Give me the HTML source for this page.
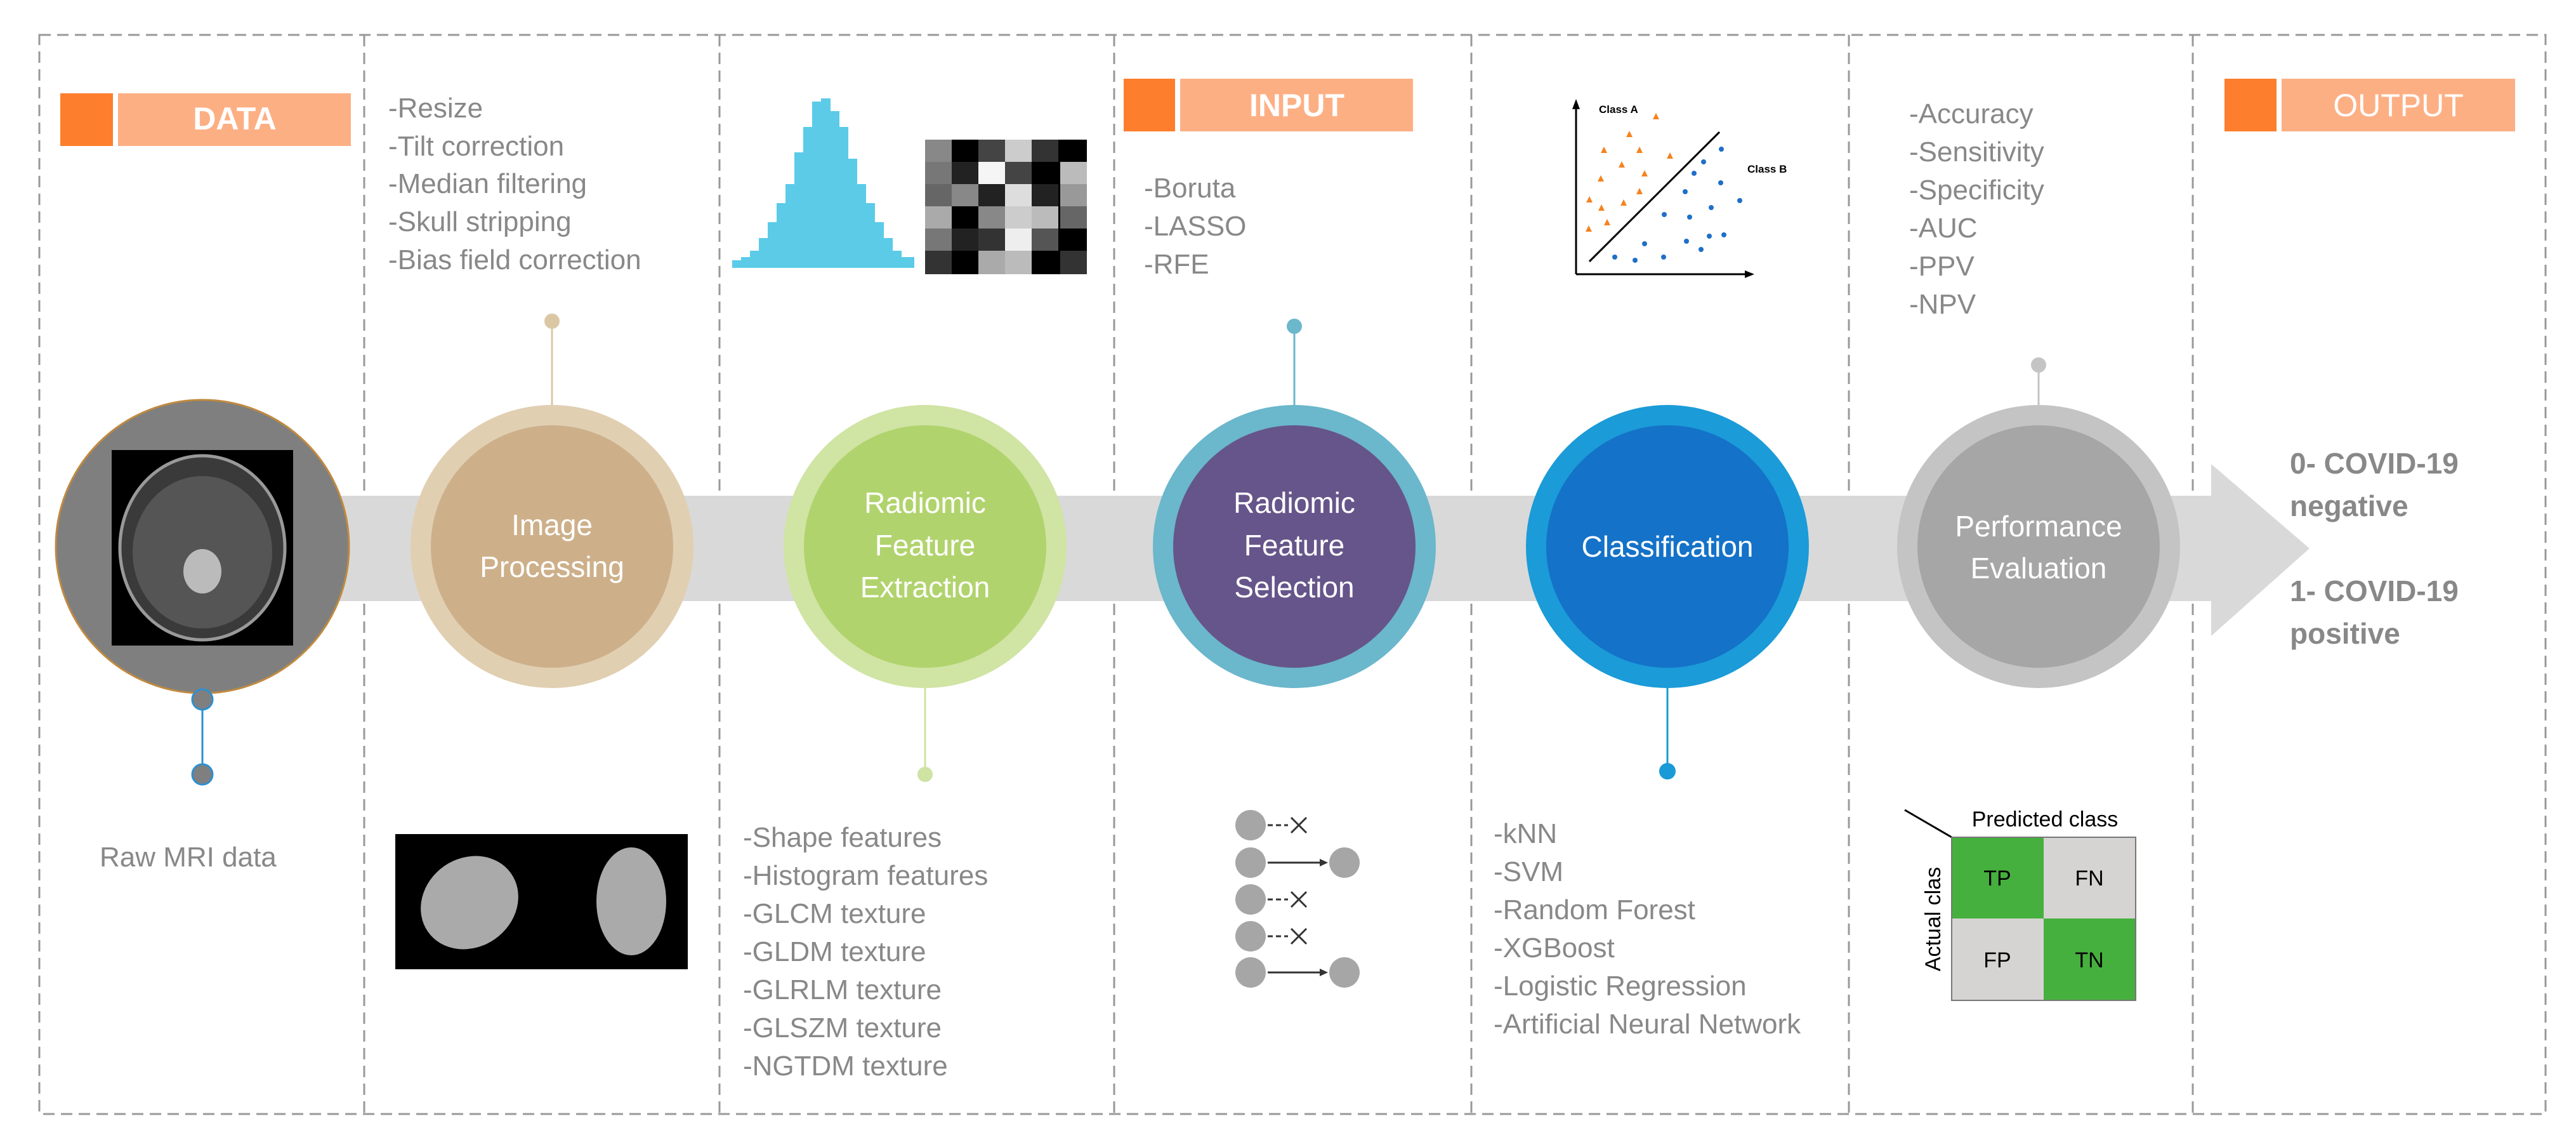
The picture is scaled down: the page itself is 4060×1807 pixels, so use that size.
<!DOCTYPE html>
<html><head><meta charset="utf-8"><style>
html,body{margin:0;padding:0;background:#fff}
svg{display:block}
text{font-family:"Liberation Sans",sans-serif}
</style></head><body>
<svg width="4060" height="1807" viewBox="0 0 4060 1807" xmlns="http://www.w3.org/2000/svg">
<rect width="4060" height="1807" fill="#fff"/>
<!-- dashed frame -->
<g stroke="#999" stroke-width="3" stroke-dasharray="18,10" fill="none">
<rect x="62" y="55" width="3950" height="1700"/>
<line x1="574" y1="55" x2="574" y2="1755"/>
<line x1="1134" y1="55" x2="1134" y2="1755"/>
<line x1="1756" y1="55" x2="1756" y2="1755"/>
<line x1="2319" y1="55" x2="2319" y2="1755"/>
<line x1="2914" y1="55" x2="2914" y2="1755"/>
<line x1="3456" y1="55" x2="3456" y2="1755"/>
</g>
<!-- band + arrow -->
<rect x="300" y="781" width="3190" height="166" fill="#d9d9d9"/>
<polygon points="3485,731 3640,864 3485,1002" fill="#d9d9d9"/>

<!-- headers -->
<rect x="95" y="147" width="83" height="83" fill="#fd7e2c"/>
<rect x="186" y="147" width="367" height="83" fill="#fdaf84"/>
<text x="370" y="204" font-size="50" font-weight="bold" fill="#fff" text-anchor="middle">DATA</text>
<rect x="1771" y="124" width="81" height="83" fill="#fd7e2c"/>
<rect x="1860" y="124" width="367" height="83" fill="#fdaf84"/>
<text x="2044" y="183" font-size="50" font-weight="bold" fill="#fff" text-anchor="middle">INPUT</text>
<rect x="3506" y="124" width="82" height="83" fill="#fd7e2c"/>
<rect x="3596" y="124" width="368" height="83" fill="#fdaf84"/>
<text x="3780" y="183" font-size="50" fill="#fff" text-anchor="middle">OUTPUT</text>

<!-- circle 1 -->
<circle cx="319" cy="861" r="231" fill="#7f7f7f" stroke="#c08a40" stroke-width="3"/>
<rect x="176" y="709" width="286" height="308" fill="#000"/>
<ellipse cx="319" cy="863" rx="130" ry="145" fill="#3a3a3a" stroke="#999" stroke-width="5"/>
<ellipse cx="319" cy="870" rx="110" ry="120" fill="#555"/>
<ellipse cx="319" cy="900" rx="30" ry="35" fill="#bbb"/>
<line x1="319" y1="1102" x2="319" y2="1220" stroke="#2e8fd0" stroke-width="3"/>
<circle cx="319" cy="1102" r="16" fill="#7f7f7f" stroke="#2e8fd0" stroke-width="3"/>
<circle cx="319" cy="1220" r="16" fill="#7f7f7f" stroke="#2e8fd0" stroke-width="3"/>
<text x="157" y="1365" font-size="44" fill="#888">Raw MRI data</text>

<!-- circle 2 -->
<line x1="870" y1="506" x2="870" y2="645" stroke="#dcc7a5" stroke-width="3"/>
<circle cx="870" cy="506" r="12" fill="#dcc7a5"/>
<circle cx="870" cy="861" r="223" fill="#e1cfb2"/>
<circle cx="870" cy="861" r="191" fill="#cdb08a"/>
<text x="870" y="843" font-size="46" fill="#fff" text-anchor="middle">Image</text>
<text x="870" y="909" font-size="46" fill="#fff" text-anchor="middle">Processing</text>
<g font-size="44" fill="#888">
<text x="612" y="185">-Resize</text>
<text x="612" y="245">-Tilt correction</text>
<text x="612" y="304">-Median filtering</text>
<text x="612" y="364">-Skull stripping</text>
<text x="612" y="424">-Bias field correction</text>
</g>
<rect x="623" y="1314" width="461" height="213" fill="#000"/>
<ellipse cx="740" cy="1422" rx="80" ry="70" fill="#aaa" transform="rotate(-35 740 1422)"/>
<ellipse cx="995" cy="1420" rx="55" ry="85" fill="#aaa"/>

<!-- circle 3 -->
<line x1="1458" y1="1080" x2="1458" y2="1220" stroke="#cfe3a3" stroke-width="3"/>
<circle cx="1458" cy="1220" r="12" fill="#cfe3a3"/>
<circle cx="1458" cy="861" r="223" fill="#d0e4a4"/>
<circle cx="1458" cy="861" r="191" fill="#b1d36d"/>
<text x="1458" y="808" font-size="46" fill="#fff" text-anchor="middle">Radiomic</text>
<text x="1458" y="875" font-size="46" fill="#fff" text-anchor="middle">Feature</text>
<text x="1458" y="941" font-size="46" fill="#fff" text-anchor="middle">Extraction</text>
<g font-size="44" fill="#888">
<text x="1171" y="1334">-Shape features</text>
<text x="1171" y="1394">-Histogram features</text>
<text x="1171" y="1454">-GLCM texture</text>
<text x="1171" y="1514">-GLDM texture</text>
<text x="1171" y="1574">-GLRLM texture</text>
<text x="1171" y="1634">-GLSZM texture</text>
<text x="1171" y="1694">-NGTDM texture</text>
</g>
<!-- histogram -->
<g fill="#5bcbe8">
<rect x="1154" y="410" width="15" height="12"/>
<rect x="1168" y="405" width="15" height="17"/>
<rect x="1182" y="395" width="15" height="27"/>
<rect x="1196" y="375" width="15" height="47"/>
<rect x="1210" y="350" width="15" height="72"/>
<rect x="1224" y="320" width="15" height="102"/>
<rect x="1238" y="290" width="15" height="132"/>
<rect x="1252" y="240" width="15" height="182"/>
<rect x="1266" y="200" width="15" height="222"/>
<rect x="1280" y="160" width="15" height="262"/>
<rect x="1294" y="155" width="15" height="267"/>
<rect x="1308" y="175" width="15" height="247"/>
<rect x="1322" y="200" width="15" height="222"/>
<rect x="1336" y="250" width="15" height="172"/>
<rect x="1350" y="290" width="15" height="132"/>
<rect x="1364" y="320" width="15" height="102"/>
<rect x="1378" y="350" width="15" height="72"/>
<rect x="1392" y="375" width="15" height="47"/>
<rect x="1406" y="395" width="15" height="27"/>
<rect x="1420" y="405" width="21" height="17"/>
</g>
<!-- grid -->
<g>
<rect x="1458" y="220" width="255" height="212" fill="#000"/>
<rect x="1458" y="220" width="42" height="35" fill="#888"/><rect x="1542" y="220" width="42" height="35" fill="#444"/><rect x="1584" y="220" width="42" height="35" fill="#ccc"/><rect x="1626" y="220" width="42" height="35" fill="#333"/>
<rect x="1458" y="255" width="42" height="35" fill="#777"/><rect x="1500" y="255" width="42" height="35" fill="#222"/><rect x="1542" y="255" width="42" height="35" fill="#f5f5f5"/><rect x="1584" y="255" width="42" height="35" fill="#444"/><rect x="1671" y="255" width="42" height="35" fill="#bbb"/>
<rect x="1458" y="290" width="42" height="35" fill="#666"/><rect x="1500" y="290" width="42" height="35" fill="#888"/><rect x="1542" y="290" width="42" height="35" fill="#222"/><rect x="1584" y="290" width="42" height="35" fill="#ddd"/><rect x="1626" y="290" width="42" height="35" fill="#222"/><rect x="1671" y="290" width="42" height="35" fill="#999"/>
<rect x="1458" y="325" width="42" height="35" fill="#aaa"/><rect x="1542" y="325" width="42" height="35" fill="#888"/><rect x="1584" y="325" width="42" height="35" fill="#ccc"/><rect x="1626" y="325" width="42" height="35" fill="#bbb"/><rect x="1671" y="325" width="42" height="35" fill="#666"/>
<rect x="1458" y="360" width="42" height="35" fill="#777"/><rect x="1500" y="360" width="42" height="35" fill="#222"/><rect x="1542" y="360" width="42" height="35" fill="#333"/><rect x="1584" y="360" width="42" height="35" fill="#eee"/><rect x="1626" y="360" width="42" height="35" fill="#555"/>
<rect x="1458" y="395" width="42" height="37" fill="#333"/><rect x="1542" y="395" width="42" height="37" fill="#aaa"/><rect x="1584" y="395" width="42" height="37" fill="#bbb"/><rect x="1671" y="395" width="42" height="37" fill="#333"/>
</g>

<!-- circle 4 -->
<line x1="2040" y1="514" x2="2040" y2="645" stroke="#6bb7cc" stroke-width="3"/>
<circle cx="2040" cy="514" r="12" fill="#6bb7cc"/>
<circle cx="2040" cy="861" r="223" fill="#6bb7cc"/>
<circle cx="2040" cy="861" r="191" fill="#66558a"/>
<text x="2040" y="808" font-size="46" fill="#fff" text-anchor="middle">Radiomic</text>
<text x="2040" y="875" font-size="46" fill="#fff" text-anchor="middle">Feature</text>
<text x="2040" y="941" font-size="46" fill="#fff" text-anchor="middle">Selection</text>
<g font-size="44" fill="#888">
<text x="1803" y="311">-Boruta</text>
<text x="1803" y="371">-LASSO</text>
<text x="1803" y="431">-RFE</text>
</g>
<g fill="#a6a6a6" stroke="#333" stroke-width="3">
<circle cx="1971" cy="1300" r="24" stroke="none"/>
<line x1="1998" y1="1300" x2="2030" y2="1300" stroke-dasharray="8,5"/>
<path d="M2035 1288 L2059 1312 M2059 1288 L2035 1312" fill="none"/>
<circle cx="1971" cy="1359" r="24" stroke="none"/>
<line x1="1998" y1="1359" x2="2085" y2="1359"/>
<polygon points="2093,1359 2080,1353 2080,1365" fill="#333" stroke="none"/>
<circle cx="2119" cy="1359" r="24" stroke="none"/>
<circle cx="1971" cy="1417" r="24" stroke="none"/>
<line x1="1998" y1="1417" x2="2030" y2="1417" stroke-dasharray="8,5"/>
<path d="M2035 1405 L2059 1429 M2059 1405 L2035 1429" fill="none"/>
<circle cx="1971" cy="1475" r="24" stroke="none"/>
<line x1="1998" y1="1475" x2="2030" y2="1475" stroke-dasharray="8,5"/>
<path d="M2035 1463 L2059 1487 M2059 1463 L2035 1487" fill="none"/>
<circle cx="1971" cy="1532" r="24" stroke="none"/>
<line x1="1998" y1="1532" x2="2085" y2="1532"/>
<polygon points="2093,1532 2080,1526 2080,1538" fill="#333" stroke="none"/>
<circle cx="2119" cy="1532" r="24" stroke="none"/>
</g>

<!-- circle 5 -->
<line x1="2628" y1="1080" x2="2628" y2="1215" stroke="#1a9ad6" stroke-width="3"/>
<circle cx="2628" cy="1215" r="13" fill="#1a9ad6"/>
<circle cx="2628" cy="861" r="223" fill="#1b9bd8"/>
<circle cx="2628" cy="861" r="191" fill="#1472c8"/>
<text x="2628" y="877" font-size="46" fill="#fff" text-anchor="middle">Classification</text>
<g font-size="44" fill="#888">
<text x="2354" y="1328">-kNN</text>
<text x="2354" y="1388">-SVM</text>
<text x="2354" y="1448">-Random Forest</text>
<text x="2354" y="1508">-XGBoost</text>
<text x="2354" y="1568">-Logistic Regression</text>
<text x="2354" y="1628">-Artificial Neural Network</text>
</g>
<!-- scatter -->
<g stroke="#000" stroke-width="3" fill="none">
<line x1="2484" y1="160" x2="2484" y2="432"/>
<line x1="2484" y1="432" x2="2758" y2="432"/>
<line x1="2505" y1="412" x2="2710" y2="208"/>
</g>
<polygon points="2484,156 2478,172 2490,172" fill="#000"/>
<polygon points="2765,432 2750,426 2750,438" fill="#000"/>
<text x="2520" y="178" font-size="17" font-weight="bold" fill="#000">Class A</text>
<text x="2754" y="272" font-size="17" font-weight="bold" fill="#000">Class B</text>
<g fill="#f58220">
<polygon points="2610,178 2605,188 2615,188"/><polygon points="2568,206 2563,216 2573,216"/>
<polygon points="2528,231 2523,241 2533,241"/><polygon points="2584,231 2579,241 2589,241"/>
<polygon points="2632,240 2627,250 2637,250"/><polygon points="2556,254 2551,264 2561,264"/>
<polygon points="2592,268 2587,278 2597,278"/><polygon points="2523,276 2518,286 2528,286"/>
<polygon points="2584,296 2579,306 2589,306"/><polygon points="2505,309 2500,319 2510,319"/>
<polygon points="2559,314 2554,324 2564,324"/><polygon points="2524,322 2519,332 2529,332"/>
<polygon points="2533,345 2528,355 2538,355"/><polygon points="2504,355 2499,365 2509,365"/>
</g>
<g fill="#1f6fc8">
<circle cx="2713" cy="235" r="4"/><circle cx="2685" cy="255" r="4"/><circle cx="2670" cy="273" r="4"/>
<circle cx="2712" cy="288" r="4"/><circle cx="2656" cy="302" r="4"/><circle cx="2742" cy="316" r="4"/>
<circle cx="2697" cy="327" r="4"/><circle cx="2623" cy="338" r="4"/><circle cx="2663" cy="342" r="4"/>
<circle cx="2717" cy="370" r="4"/><circle cx="2694" cy="372" r="4"/><circle cx="2658" cy="380" r="4"/>
<circle cx="2592" cy="384" r="4"/><circle cx="2681" cy="393" r="4"/><circle cx="2545" cy="405" r="4"/>
<circle cx="2577" cy="410" r="4"/><circle cx="2622" cy="405" r="4"/>
</g>

<!-- circle 6 -->
<line x1="3213" y1="575" x2="3213" y2="645" stroke="#c4c4c4" stroke-width="3"/>
<circle cx="3213" cy="575" r="12" fill="#c4c4c4"/>
<circle cx="3213" cy="861" r="223" fill="#c4c4c4"/>
<circle cx="3213" cy="861" r="191" fill="#a6a6a6"/>
<text x="3213" y="845" font-size="46" fill="#fff" text-anchor="middle">Performance</text>
<text x="3213" y="911" font-size="46" fill="#fff" text-anchor="middle">Evaluation</text>
<g font-size="44" fill="#888">
<text x="3009" y="194">-Accuracy</text>
<text x="3009" y="254">-Sensitivity</text>
<text x="3009" y="314">-Specificity</text>
<text x="3009" y="374">-AUC</text>
<text x="3009" y="434">-PPV</text>
<text x="3009" y="494">-NPV</text>
</g>
<!-- confusion -->
<line x1="3002" y1="1276" x2="3076" y2="1319" stroke="#000" stroke-width="3"/>
<text x="3223" y="1302" font-size="34" fill="#000" text-anchor="middle">Predicted class</text>
<text transform="translate(3058 1448) rotate(-90)" font-size="34" fill="#000" text-anchor="middle">Actual clas</text>
<rect x="3076" y="1319" width="145" height="128" fill="#46b03e"/>
<rect x="3221" y="1319" width="145" height="128" fill="#d6d3d3"/>
<rect x="3076" y="1447" width="145" height="129" fill="#d6d3d3"/>
<rect x="3221" y="1447" width="145" height="129" fill="#46b03e"/>
<rect x="3076" y="1319" width="290" height="257" fill="none" stroke="#777" stroke-width="2"/>
<g font-size="34" fill="#000" text-anchor="middle">
<text x="3148" y="1395">TP</text><text x="3293" y="1395">FN</text>
<text x="3148" y="1524">FP</text><text x="3293" y="1524">TN</text>
</g>

<!-- output text -->
<g font-size="46" font-weight="bold" fill="#888">
<text x="3609" y="746">0- COVID-19</text>
<text x="3609" y="813">negative</text>
<text x="3609" y="947">1- COVID-19</text>
<text x="3609" y="1014">positive</text>
</g>
</svg>
</body></html>
